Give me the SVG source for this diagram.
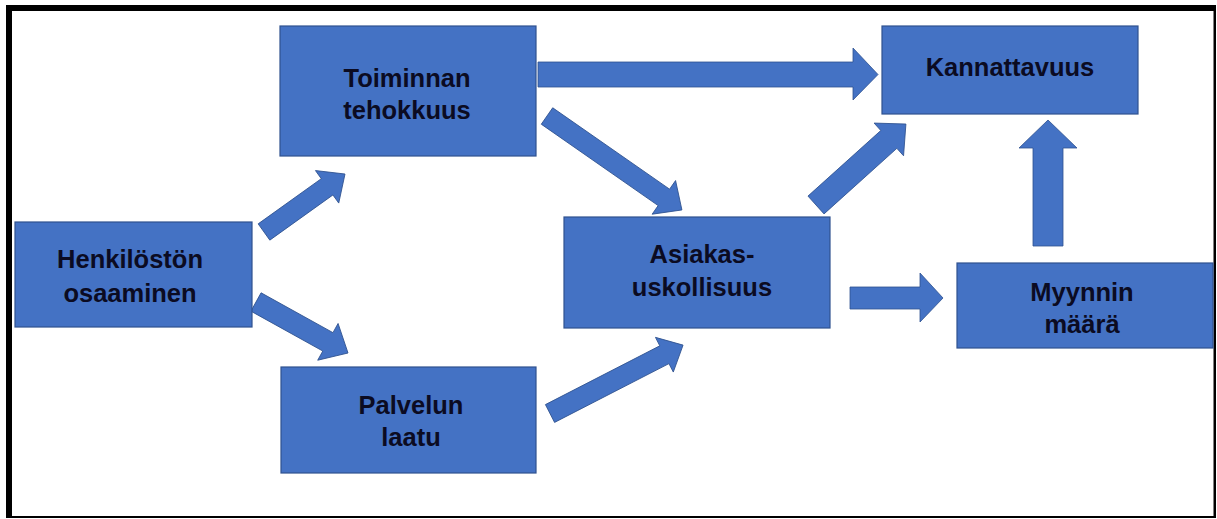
<svg xmlns="http://www.w3.org/2000/svg" width="1217" height="519" viewBox="0 0 1217 519">
  <style>
    .box { fill: #4472C4; stroke: #2F528F; stroke-width: 1.2; }
    .arrow { fill: #4472C4; stroke: #2F528F; stroke-width: 0.8; }
    .label { font-family: "Liberation Sans", Arial, sans-serif; font-weight: bold; font-size: 25.5px; fill: #0b0b22; text-anchor: middle; }
  </style>

  <!-- outer frame: heavy on the left/top, thin on the right/bottom -->
  <rect x="6" y="5" width="1210" height="513" fill="#000"/>
  <rect x="12" y="11" width="1201.5" height="505" fill="#fff"/>

  <g id="connectors">
    <!-- Henkilöstön osaaminen -> Toiminnan tehokkuus -->
    <path class="arrow" transform="translate(264,232) rotate(-35.6)" d="M0,-10 L77.6,-10 L77.6,-20 L99.6,0 L77.6,20 L77.6,10 L0,10 Z"/>
    <!-- Henkilöstön osaaminen -> Palvelun laatu -->
    <path class="arrow" transform="translate(256,302) rotate(29)" d="M0,-10.5 L82.2,-10.5 L82.2,-21 L105.2,0 L82.2,21 L82.2,10.5 L0,10.5 Z"/>
    <!-- Toiminnan tehokkuus -> Kannattavuus -->
    <path class="arrow" d="M538,62 L853,62 L853,48 L878,74.5 L853,100 L853,87 L538,87 Z"/>
    <!-- Toiminnan tehokkuus -> Asiakasuskollisuus -->
    <path class="arrow" transform="translate(547,116) rotate(34.85)" d="M0,-10 L142.4,-10 L142.4,-20.5 L164.4,0 L142.4,20.5 L142.4,10 L0,10 Z"/>
    <!-- Asiakasuskollisuus -> Kannattavuus -->
    <path class="arrow" transform="translate(816,205) rotate(-42)" d="M0,-12 L98,-12 L98,-22 L121,0 L98,22 L98,12 L0,12 Z"/>
    <!-- Palvelun laatu -> Asiakasuskollisuus -->
    <path class="arrow" transform="translate(550,413.5) rotate(-27.2)" d="M0,-10 L128.6,-10 L128.6,-19.5 L149.6,0 L128.6,19.5 L128.6,10 L0,10 Z"/>
    <!-- Asiakasuskollisuus -> Myynnin määrä -->
    <path class="arrow" d="M850,287 L920,287 L920,273 L943,298 L920,322 L920,309 L850,309 Z"/>
    <!-- Myynnin määrä -> Kannattavuus -->
    <path class="arrow" d="M1033,246 L1033,148 L1019,148 L1048,120 L1077,148 L1063,148 L1063,246 Z"/>
  </g>

  <g id="henkiloston-osaaminen">
    <rect class="box" x="15" y="222" width="237" height="105"/>
    <text class="label" x="130" y="268">Henkilöstön</text>
    <text class="label" x="130" y="301.5">osaaminen</text>
  </g>

  <g id="toiminnan-tehokkuus">
    <rect class="box" x="280" y="26" width="256" height="130"/>
    <text class="label" x="407" y="87">Toiminnan</text>
    <text class="label" x="407" y="119">tehokkuus</text>
  </g>

  <g id="palvelun-laatu">
    <rect class="box" x="281" y="367" width="255" height="106"/>
    <text class="label" x="411" y="414">Palvelun</text>
    <text class="label" x="411" y="446">laatu</text>
  </g>

  <g id="asiakasuskollisuus">
    <rect class="box" x="564" y="217" width="266" height="111"/>
    <text class="label" x="702" y="263">Asiakas-</text>
    <text class="label" x="702" y="295.5">uskollisuus</text>
  </g>

  <g id="kannattavuus">
    <rect class="box" x="882" y="26" width="256" height="88"/>
    <text class="label" x="1010" y="76">Kannattavuus</text>
  </g>

  <g id="myynnin-maara">
    <rect class="box" x="957" y="263" width="256" height="85"/>
    <text class="label" x="1082" y="301">Myynnin</text>
    <text class="label" x="1082" y="333">määrä</text>
  </g>
</svg>
